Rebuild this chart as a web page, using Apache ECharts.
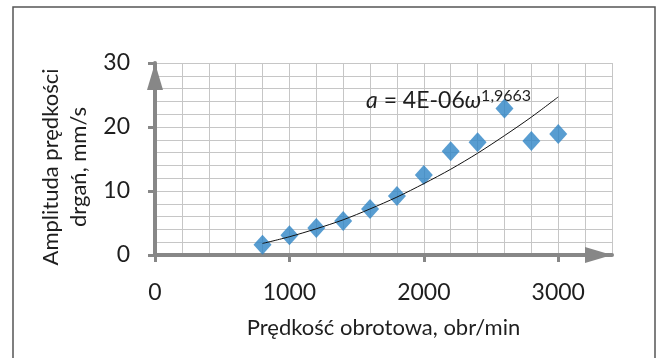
<!DOCTYPE html>
<html>
<head>
<meta charset="utf-8">
<script src="https://cdn.jsdelivr.net/npm/echarts@6/dist/echarts.min.js"></script>
<style>
  html, body { margin: 0; padding: 0; background: #ffffff; }
  #chart { width: 661px; height: 358px; }
</style>
</head>
<body>
<div id="chart"></div>
<script>
// Rotational speed (obr/min) and measured vibration velocity amplitude (mm/s)
const speeds = [800, 1000, 1200, 1400, 1600, 1800, 2000, 2200, 2400, 2600, 2800, 3000];
const amplitudes = [1.6, 3.1, 4.2, 5.3, 7.2, 9.2, 12.5, 16.2, 17.6, 22.9, 17.8, 18.9];

// Power trend line a = 4E-06·ω^1,9663, sampled along the speed range
const trendSpeeds = [800, 1000, 1200, 1400, 1600, 1800, 2000, 2200, 2400, 2600, 2800, 3000];
const trendValues = [1.8, 2.85, 4.1, 5.5, 7.2, 9.05, 11.15, 13.4, 15.9, 18.65, 21.55, 24.7];

const xTickLabels = [0, 1000, 2000, 3000];
const yTickLabels = [0, 10, 20, 30];

const FONT = 'Lato';
const AXIS_GRAY = '#878787';
const GRID_GRAY = '#c6c6c6';
const TEXT = '#1e1e1e';

const X_MAX = 3400;
const Y_MAX = 30;

const axisArrow = {
  show: true,
  lineStyle: { color: AXIS_GRAY, width: 4 },
  symbol: ['none', 'triangle'],
  symbolSize: [16, 27],
  symbolOffset: [0, -13.5]
};

const chart = echarts.init(document.getElementById('chart'));

chart.setOption({
  animation: false,
  grid: { left: 155, right: 49, top: 63, bottom: 103, containLabel: false },
  xAxis: [
    {
      // fine grid every 200 obr/min
      type: 'value', min: 0, max: X_MAX, interval: 200,
      axisLine: { show: false }, axisTick: { show: false }, axisLabel: { show: false },
      splitLine: { show: true, lineStyle: { color: GRID_GRAY, width: 1 } }
    },
    {
      // labelled axis with arrow
      type: 'value', min: 0, max: X_MAX, position: 'bottom',
      name: 'Prędkość obrotowa, obr/min',
      nameLocation: 'middle',
      nameGap: 62,
      nameTextStyle: { fontFamily: FONT, fontSize: 22, color: TEXT },
      axisLine: axisArrow,
      axisTick: {
        show: true, customValues: xTickLabels, length: 7,
        lineStyle: { color: AXIS_GRAY, width: 3 }
      },
      axisLabel: {
        customValues: xTickLabels, margin: 26,
        fontFamily: FONT, fontSize: 23, color: TEXT,
        formatter: (v) => String(v)
      },
      splitLine: { show: false }
    }
  ],
  yAxis: [
    {
      // fine grid every 2 mm/s
      type: 'value', min: 0, max: Y_MAX, interval: 2,
      axisLine: { show: false }, axisTick: { show: false }, axisLabel: { show: false },
      splitLine: { show: true, lineStyle: { color: GRID_GRAY, width: 1 } }
    },
    {
      type: 'value', min: 0, max: Y_MAX, position: 'left',
      name: 'Amplituda prędkości\ndrgań, mm/s',
      nameLocation: 'middle',
      nameRotate: 90,
      nameGap: 56,
      nameTextStyle: {
        fontFamily: FONT, fontSize: 22, color: TEXT, lineHeight: 28,
        align: 'center', padding: [0, 16, 0, 0]
      },
      axisLine: axisArrow,
      axisTick: {
        show: true, customValues: yTickLabels, length: 7,
        lineStyle: { color: AXIS_GRAY, width: 3 }
      },
      axisLabel: {
        customValues: yTickLabels, margin: 25,
        fontFamily: FONT, fontSize: 23, color: TEXT,
        formatter: (v) => String(v)
      },
      splitLine: { show: false }
    }
  ],
  series: [
    {
      type: 'scatter',
      xAxisIndex: 0, yAxisIndex: 0,
      data: speeds.map((s, i) => [s, amplitudes[i]]),
      symbol: 'diamond',
      symbolSize: [18, 20],
      itemStyle: { color: '#2e84c6' },
      z: 3
    },
    {
      type: 'line',
      xAxisIndex: 0, yAxisIndex: 0,
      data: trendSpeeds.map((s, i) => [s, trendValues[i]]),
      smooth: 0.3,
      showSymbol: false,
      symbol: 'none',
      lineStyle: { color: '#111111', width: 1 },
      z: 4
    }
  ],
  graphic: [
    {
      type: 'rect',
      shape: { x: 13, y: 7, width: 642, height: 370 },
      style: { fill: 'none', stroke: '#555555', lineWidth: 1.5 },
      silent: true
    },
    {
      type: 'text',
      left: 366,
      top: 88,
      style: {
        text: '{i|a} = 4E-06{i|ω}{sup|1,9663}',
        fontFamily: FONT,
        fontSize: 23,
        lineHeight: 26,
        fill: TEXT,
        rich: {
          i: { fontFamily: FONT, fontSize: 23, fontStyle: 'italic', fill: TEXT, lineHeight: 26 },
          sup: { fontFamily: FONT, fontSize: 16, fill: TEXT, verticalAlign: 'top', lineHeight: 16 }
        }
      },
      z: 10
    }
  ]
});
</script>
</body>
</html>
